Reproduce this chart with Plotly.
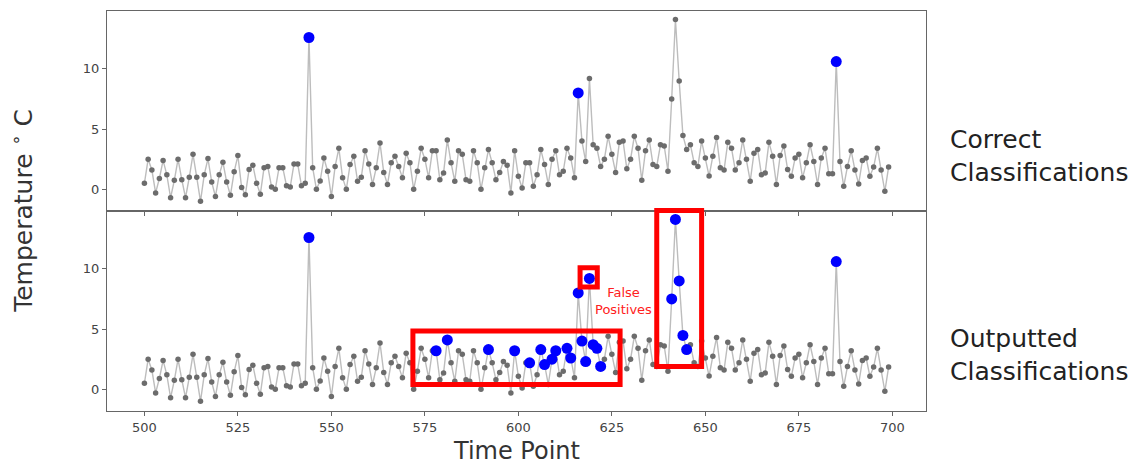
import plotly.graph_objects as go

# Hourly temperature readings, time points 500..699
time_points = list(range(500, 700))
temperature = [
    0.5, 2.5, 1.6, -0.3, 0.9, 2.4, 1.2, -0.7, 0.75, 2.5,
    0.8, -0.7, 1.0, 2.9, 1.0, -1.0, 1.2, 2.55, 0.6, -0.6,
    1.2, 2.25, 0.6, -0.5, 1.45, 2.8, 0.15, -0.45, 1.65, 2.0,
    0.5, -0.4, 1.8, 1.9, 0.2, 0.0, 1.8, 1.8, 0.3, 0.2,
    2.1, 2.1, 0.3, 0.5, 12.6, 1.8, 0.0, 0.7, 2.6, 1.5,
    -0.6, 1.9, 3.4, 0.95, 0.0, 2.05, 2.75, 0.67, 1.0, 3.2,
    2.1, 0.4, 1.8, 3.85, 1.4, 0.4, 2.2, 2.75, 1.9, 0.95,
    3.0, 2.2, 0.0, 1.5, 3.4, 2.5, 0.95, 3.2, 3.2, 0.8,
    1.36, 4.1, 2.2, 0.67, 3.2, 2.9, 0.8, 0.67, 3.2, 2.2,
    0.0, 1.8, 3.3, 2.2, 0.8, 1.4, 2.3, 2.0, -0.3, 3.2,
    1.08, 0.11, 2.2, 2.2, 0.25, 1.2, 3.3, 2.05, 0.4, 2.5,
    3.2, 1.2, 1.5, 3.4, 2.6, 0.95, 8.0, 4.0, 2.3, 9.2,
    3.7, 3.4, 1.9, 2.5, 4.4, 2.9, 1.4, 3.9, 4.0, 1.7,
    2.5, 4.4, 3.4, 0.75, 3.2, 4.1, 2.05, 1.9, 3.7, 3.6,
    1.5, 7.5, 14.1, 9.0, 4.47, 3.3, 3.7, 2.2, 1.9, 4.0,
    2.6, 1.1, 2.75, 4.3, 1.8, 1.6, 3.9, 3.4, 1.6, 2.2,
    4.1, 2.5, 0.67, 3.0, 3.3, 1.2, 1.36, 3.9, 2.75, 0.4,
    2.8, 3.6, 1.64, 1.08, 2.6, 2.9, 0.95, 2.2, 3.7, 2.3,
    0.4, 2.6, 3.4, 1.3, 1.3, 10.6, 2.3, 0.25, 1.9, 3.2,
    1.6, 0.45, 2.4, 2.6, 1.08, 1.85, 3.4, 1.6, -0.17, 1.85,
]

# Time points flagged as anomalies
correct_anomalies = [544, 616, 685]
output_anomalies = [544, 578, 581, 592, 599, 603, 606, 607, 609, 610, 613, 614,
                    616, 617, 618, 619, 620, 621, 622, 641, 642, 643, 644, 645, 685]

x_ticks = [500, 525, 550, 575, 600, 625, 650, 675, 700]
y_ticks = [0, 5, 10]
x_range = [490.0, 709.0]
y_range = [-1.8, 14.8]

# Highlight boxes (time start, time end, temp low, temp high)
highlight_boxes = [
    (571.8, 627.2, 0.4, 4.85),
    (616.5, 621.1, 8.5, 10.1),
    (637.0, 649.0, 1.9, 14.85),
]

lookup = dict(zip(time_points, temperature))

LINE_GRAY = "#bdbdbd"
DOT_GRAY = "#6c6c6c"
AXIS_GRAY = "#666666"
FONT = "DejaVu Sans"

fig = go.Figure()

panels = [("x", "y", correct_anomalies), ("x2", "y2", output_anomalies)]
for xa, ya, flagged in panels:
    fig.add_trace(go.Scatter(
        x=time_points, y=temperature, mode="lines+markers",
        line=dict(color=LINE_GRAY, width=1.4),
        marker=dict(color=DOT_GRAY, size=5.5),
        xaxis=xa, yaxis=ya, showlegend=False, hoverinfo="x+y",
    ))
    fig.add_trace(go.Scatter(
        x=flagged, y=[lookup[t] for t in flagged], mode="markers",
        marker=dict(color="#0000ff", size=11),
        xaxis=xa, yaxis=ya, showlegend=False,
    ))


def to_paper(t, v):
    px = (t - x_range[0]) / (x_range[1] - x_range[0])
    py = 0.5 * (v - y_range[0]) / (y_range[1] - y_range[0])
    return px, py


shapes = []
for t0, t1, v0, v1 in highlight_boxes:
    x0, y0 = to_paper(t0, v0)
    x1, y1 = to_paper(t1, v1)
    shapes.append(dict(type="rect", xref="paper", yref="paper",
                       x0=x0, x1=x1, y0=y0, y1=y1,
                       line=dict(color="#ff0000", width=5),
                       fillcolor="rgba(0,0,0,0)", layer="above"))

axis_common = dict(
    showline=True, linecolor=AXIS_GRAY, linewidth=1.4, mirror=True,
    showgrid=False, zeroline=False, ticks="outside", ticklen=4,
    tickcolor=AXIS_GRAY, tickfont=dict(family=FONT, size=13, color="#444"),
)

fig.update_layout(
    width=1147, height=466,
    margin=dict(l=107, r=221, t=11, b=55),
    paper_bgcolor="white", plot_bgcolor="white",
    xaxis=dict(domain=[0, 1], anchor="y", range=x_range, tickvals=x_ticks,
               showticklabels=False, matches="x2", **axis_common),
    yaxis=dict(domain=[0.5, 1], anchor="x", range=y_range, tickvals=y_ticks,
               **axis_common),
    xaxis2=dict(domain=[0, 1], anchor="y2", range=x_range, tickvals=x_ticks,
                **axis_common),
    yaxis2=dict(domain=[0, 0.5], anchor="x2", range=y_range, tickvals=y_ticks,
                **axis_common),
    shapes=shapes,
    annotations=[
        dict(text="Temperature <sup>∘</sup> C", xref="paper", yref="paper",
             x=-0.104, y=0.5, textangle=-90, showarrow=False,
             xanchor="center", yanchor="middle",
             font=dict(family=FONT, size=25, color="#333")),
        dict(text="Time Point", xref="paper", yref="paper",
             x=0.5, y=0, yshift=-40, showarrow=False,
             xanchor="center", yanchor="middle",
             font=dict(family=FONT, size=24, color="#333")),
        dict(text="Correct<br>Classifications", xref="paper", yref="paper",
             x=1.027, y=0.6375, showarrow=False, align="left",
             xanchor="left", yanchor="middle",
             font=dict(family=FONT, size=25, color="#222")),
        dict(text="Outputted<br>Classifications", xref="paper", yref="paper",
             x=1.027, y=0.14, showarrow=False, align="left",
             xanchor="left", yanchor="middle",
             font=dict(family=FONT, size=25, color="#222")),
        dict(text="False<br>Positives", xref="x2", yref="y2",
             x=628, y=7.3, showarrow=False, align="center",
             xanchor="center", yanchor="middle",
             font=dict(family=FONT, size=13, color="#ff2020")),
    ],
)

fig.write_html("out.html")
